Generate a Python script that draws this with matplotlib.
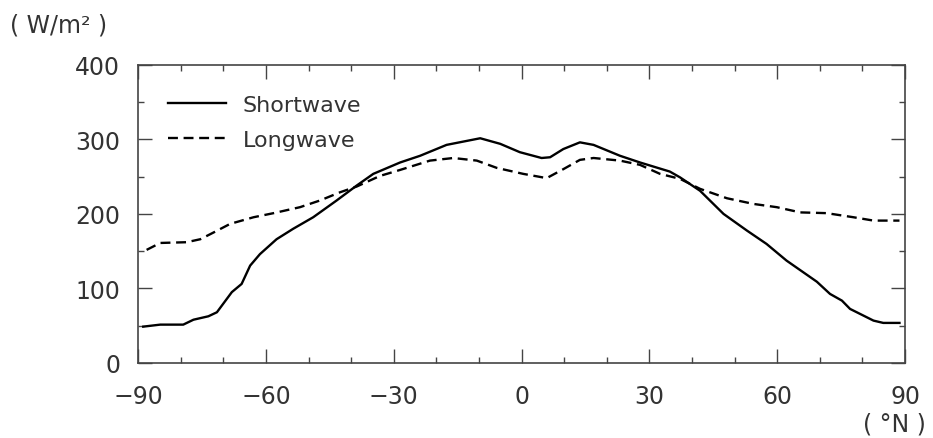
import matplotlib
matplotlib.use("Agg")
import matplotlib.pyplot as plt
from matplotlib.ticker import MultipleLocator

# latitude / flux
sw_lat = [-88.8, -84.8, -79.4, -77.0, -73.5, -71.5, -68.0, -65.7, -63.7, -61.4, -57.5, -53.6,
          -48.9, -43.4, -38.7, -34.8, -28.5, -23.8, -17.6, -9.7, -5.0, -0.4, 4.7, 6.7, 9.8,
          13.7, 16.9, 23.1, 27.8, 34.8, 37.2, 41.9, 47.4, 52.9, 57.5, 62.2, 69.3, 72.4, 75.2,
          77.1, 82.6, 84.9, 88.7]
sw_val = [48.7, 51.4, 51.4, 58, 62.6, 68, 95, 106, 130.6, 146, 166, 180,
          195.5, 218, 238, 253.7, 269, 278, 292.6, 301.5, 294, 282.8, 275, 276, 287,
          296, 292.6, 278, 269, 256.8, 249, 231, 200, 177.6, 159.7, 137.3, 109, 92.6, 83.6,
          72.5, 56.8, 53.7, 53.7]

lw_lat = [-88.0, -84.8, -78.6, -75.4, -72.3, -68.4, -62.9, -58.2, -52.0, -47.3, -42.6, -38.7,
          -33.2, -28.5, -21.5, -16.0, -10.5, -5.8, 0.4, 5.9, 9.8, 13.7, 16.9, 23.1, 27.8,
          32.5, 37.2, 41.9, 48.2, 54.4, 59.9, 65.4, 71.6, 77.9, 82.6, 88.7]
lw_val = [151.7, 161, 162, 166, 175, 186.6, 195.5, 201, 209, 218, 229, 236.7,
          251, 259, 271.5, 275, 271.5, 261.7, 253.7, 248, 260, 272.5, 275, 271.5, 265.8,
          253.7, 247, 233.6, 221, 213.4, 209, 202, 201, 195.5, 191, 191]

x_ticks = [-90, -60, -30, 0, 30, 60, 90]
x_labels = ["\u221290", "\u221260", "\u221230", "0", "30", "60", "90"]
y_ticks = [0, 100, 200, 300, 400]
y_labels = ["0", "100", "200", "300", "400"]

txt = "#333333"
plt.rcParams['font.family'] = ['DejaVu Sans']

fig = plt.figure(figsize=(9.33, 4.39), dpi=100)
ax = fig.add_axes([0.148, 0.171, 0.822, 0.679])

ax.plot(sw_lat, sw_val, color="black", lw=1.7, label="Shortwave")
ax.plot(lw_lat, lw_val, color="black", lw=1.7, ls=(0, (4.2, 2.4)), label="Longwave")

ax.set_xlim(-90, 90)
ax.set_ylim(0, 400)
ax.set_xticks(x_ticks, x_labels)
ax.set_yticks(y_ticks, y_labels)
ax.xaxis.set_minor_locator(MultipleLocator(10))
ax.yaxis.set_minor_locator(MultipleLocator(50))
ax.tick_params(which="both", direction="in", top=True, right=True, colors="#444444",
               labelcolor=txt, labelsize=17, width=1.0)
ax.tick_params(which="major", length=10)
ax.tick_params(which="minor", length=4.5)
ax.tick_params(axis="x", which="major", pad=15)
ax.tick_params(axis="y", which="major", pad=13)
for s in ax.spines.values():
    s.set_color("#444444")
    s.set_linewidth(1.2)

leg = ax.legend(loc="upper left", frameon=False, fontsize=16, handlelength=2.6,
                handletextpad=0.75, labelspacing=0.7, borderaxespad=0.0,
                bbox_to_anchor=(0.028, 0.93))
for t in leg.get_texts():
    t.set_color(txt)

fig.text(0.011, 0.925, "( W/m\u00b2 )", fontsize=17, color=txt, va="baseline")
fig.text(0.992, 0.016, "( °N )", fontsize=17, color=txt, ha="right", va="baseline")

fig.savefig("out.png", dpi=100)
